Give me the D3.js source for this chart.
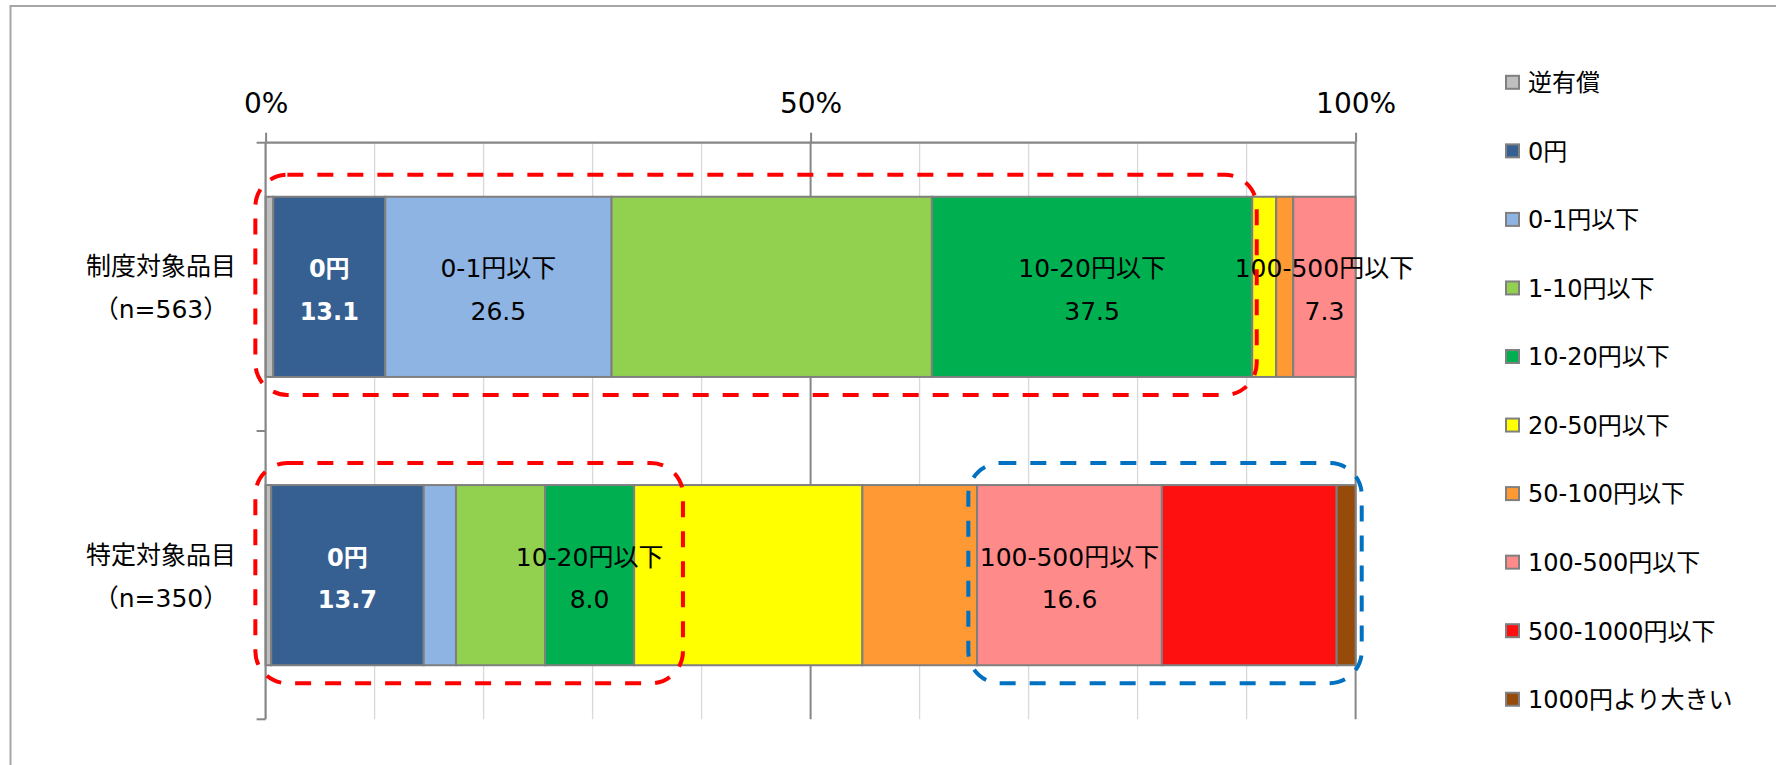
<!DOCTYPE html>
<html>
<head>
<meta charset="utf-8">
<script src="https://cdn.jsdelivr.net/npm/d3@7"></script>
<style>
  html, body { margin: 0; padding: 0; background: #ffffff; }
  svg { display: block; }
  text { font-family: "DejaVu Sans", "Noto Sans CJK JP", sans-serif; }
</style>
</head>
<body>
<svg id="chart" width="1776" height="765"></svg>
<script>
// ---- data ----
const categories = ["制度対象品目", "特定対象品目"];
const sampleSizes = ["（n=563）", "（n=350）"];
const seriesNames = ["逆有償", "0円", "0-1円以下", "1-10円以下", "10-20円以下",
  "20-50円以下", "50-100円以下", "100-500円以下", "500-1000円以下", "1000円より大きい"];
const valuesSeido   = [0.9, 13.1, 26.5, 37.5, 37.5, 2.8, 2.0, 7.3, 0, 0];
const valuesTokutei = [0.5, 13.7, 2.9, 8.0, 8.0, 20.5, 10.3, 16.6, 15.7, 1.7];
const labeledSeido   = ["0円", "0-1円以下", "10-20円以下", "100-500円以下"];
const labeledTokutei = ["0円", "10-20円以下", "100-500円以下"];
const tickValues = [0, 0.5, 1];
const seriesColors = ["#BFBFBF", "#366092", "#8EB4E3", "#92D050", "#00B050",
  "#FFFF00", "#FF9933", "#FF8A8A", "#FF1010", "#964B0A"];

// ---- setup ----
const svg = d3.select("#chart");
const values = [valuesSeido, valuesTokutei];
const labeled = [labeledSeido, labeledTokutei];
const rows = categories.map((c, i) => {
  const r = { category: c };
  seriesNames.forEach((s, j) => { r[s] = values[i][j]; });
  return r;
});

const x = d3.scaleLinear().domain([0, 1]).range([265.6, 1355.6]);
const y = d3.scaleBand().domain(categories).range([142.7, 719.3]).padding(0);
const color = d3.scaleOrdinal().domain(seriesNames).range(seriesColors);
const barInset = y.bandwidth() * 0.1875;
const barH = y.bandwidth() - 2 * barInset;

const stacked = d3.stack().keys(seriesNames).offset(d3.stackOffsetExpand)(rows);

// outer frame
svg.append("rect")
  .attr("x", 10.5).attr("y", 6).attr("width", 1800).attr("height", 800)
  .attr("fill", "none").attr("stroke", "#A6A6A6").attr("stroke-width", 2);

// minor gridlines every 10%
const minor = d3.range(1, 10).map(d => d / 10).filter(d => d !== 0.5);
svg.append("g").selectAll("line").data(minor).join("line")
  .attr("x1", d => x(d)).attr("x2", d => x(d))
  .attr("y1", y.range()[0]).attr("y2", y.range()[1])
  .attr("stroke", "#D9D9D9").attr("stroke-width", 1.3);

// major gridlines
svg.append("g").selectAll("line").data([0.5, 1]).join("line")
  .attr("x1", d => x(d)).attr("x2", d => x(d))
  .attr("y1", y.range()[0]).attr("y2", y.range()[1])
  .attr("stroke", "#868686").attr("stroke-width", 2);

// stacked bars
svg.append("g").selectAll("g").data(stacked).join("g")
  .attr("fill", d => color(d.key))
  .selectAll("rect").data(d => d).join("rect")
  .attr("x", d => x(d[0]))
  .attr("width", d => x(d[1]) - x(d[0]))
  .attr("y", d => y(d.data.category) + barInset)
  .attr("height", barH)
  .attr("stroke", "#7F7F7F").attr("stroke-width", 2);

// top percentage axis
const axisTop = svg.append("g")
  .attr("transform", `translate(0,${y.range()[0]})`)
  .call(d3.axisTop(x).tickValues(tickValues).tickFormat(d3.format(".0%"))
    .tickSize(10).tickPadding(20));
axisTop.select(".domain").attr("stroke", "#868686").attr("stroke-width", 2.2)
  .attr("d", `M${x(0)},0H${x(1)}`);
axisTop.selectAll(".tick line").attr("stroke", "#868686").attr("stroke-width", 2);
axisTop.selectAll(".tick text").attr("fill", "#000").attr("font-size", 28)
  .style("font-family", "'DejaVu Sans', 'Noto Sans CJK JP', sans-serif");

// left category axis with ticks at band boundaries
const bounds = categories.map(c => y(c)).concat([y.range()[1]]);
const leftAxis = svg.append("g");
leftAxis.append("line")
  .attr("x1", x(0)).attr("x2", x(0))
  .attr("y1", y.range()[0]).attr("y2", y.range()[1])
  .attr("stroke", "#868686").attr("stroke-width", 2.2);
leftAxis.selectAll("line.tk").data(bounds).join("line").attr("class", "tk")
  .attr("x1", x(0) - 9).attr("x2", x(0))
  .attr("y1", d => d).attr("y2", d => d)
  .attr("stroke", "#868686").attr("stroke-width", 2);

// category labels
const catG = svg.append("g").selectAll("g").data(categories).join("g")
  .attr("transform", d => `translate(161,${y(d) + y.bandwidth() / 2})`);
catG.append("text").attr("text-anchor", "middle").attr("y", -11.5)
  .attr("font-size", 25).attr("fill", "#000").text(d => d);
catG.append("text").attr("text-anchor", "middle").attr("y", 31.5)
  .attr("font-size", 25).attr("fill", "#000")
  .text((d, i) => sampleSizes[i]);

// data labels (name + value) inside selected segments
const labelData = [];
stacked.forEach(s => {
  s.forEach((d, i) => {
    if (labeled[i].includes(s.key)) {
      labelData.push({ key: s.key, cat: d.data.category, x0: d[0], x1: d[1], v: d.data[s.key] });
    }
  });
});
const lab = svg.append("g").selectAll("g").data(labelData).join("g")
  .attr("transform", d => `translate(${x((d.x0 + d.x1) / 2)},${y(d.cat) + y.bandwidth() / 2})`);
lab.append("text").attr("text-anchor", "middle").attr("y", -9.5)
  .attr("font-size", d => d.key === "0円" ? 24 : 25)
  .attr("font-weight", d => d.key === "0円" ? "bold" : "normal")
  .attr("fill", d => d.key === "0円" ? "#fff" : "#000")
  .text(d => d.key);
lab.append("text").attr("text-anchor", "middle").attr("y", 32.8)
  .attr("font-size", d => d.key === "0円" ? 24 : 25)
  .attr("font-weight", d => d.key === "0円" ? "bold" : "normal")
  .attr("fill", d => d.key === "0円" ? "#fff" : "#000")
  .text(d => d.v.toFixed(1));

// dashed callout frames (extent along the percent axis)
const callouts = [
  { cat: "制度対象品目", from: -0.0094, to: 0.9093, stroke: "#FF0000" },
  { cat: "特定対象品目", from: -0.0094, to: 0.3829, stroke: "#FF0000" },
  { cat: "特定対象品目", from: 0.6447, to: 1.0056, stroke: "#0070C0" }
];
svg.append("g").selectAll("rect").data(callouts).join("rect")
  .attr("x", d => x(d.from))
  .attr("width", d => x(d.to) - x(d.from))
  .attr("y", d => y(d.cat) + barInset - 22)
  .attr("height", barH + 40)
  .attr("rx", 32).attr("ry", 32)
  .attr("fill", "none").attr("stroke", d => d.stroke)
  .attr("stroke-width", 4).attr("stroke-dasharray", "16,14");

// legend
const leg = svg.append("g").selectAll("g").data(seriesNames).join("g")
  .attr("transform", (d, i) => `translate(1506,${82.3 + i * 68.55})`);
leg.append("rect").attr("x", 0).attr("y", -6.5).attr("width", 13).attr("height", 13)
  .attr("fill", d => color(d)).attr("stroke", "#808080").attr("stroke-width", 2);
leg.append("text").attr("x", 22).attr("y", 8.8)
  .attr("font-size", 24).attr("fill", "#000").text(d => d);
</script>
</body>
</html>
